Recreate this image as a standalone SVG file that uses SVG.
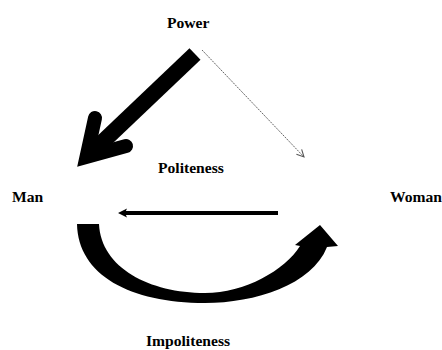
<svg xmlns="http://www.w3.org/2000/svg" width="442" height="350" viewBox="0 0 442 350">
<style>
.lbl{font-family:"Liberation Serif","Times New Roman",serif;font-weight:bold;font-size:15.6px;fill:#000}
</style>
<defs>
<marker id="openHead" viewBox="0 0 10 10" refX="9" refY="5" markerWidth="9" markerHeight="9" markerUnits="userSpaceOnUse" orient="auto">
<path d="M1,1 L9,5 L1,9" fill="none" stroke="#555" stroke-width="1.2"/>
</marker>
</defs>
<rect width="442" height="350" fill="#fff"/>
<g id="power"><text class="lbl" x="167" y="28">Power</text></g>
<g id="man"><text class="lbl" x="12" y="202">Man</text></g>
<g id="woman"><text class="lbl" x="390" y="202">Woman</text></g>
<g id="politeness"><text class="lbl" x="158" y="173">Politeness</text></g>
<g id="impoliteness"><text class="lbl" x="146" y="346">Impoliteness</text></g>
<g id="connectors">
<g id="power-man">
<line x1="195" y1="54" x2="92" y2="152" stroke="#000" stroke-width="16"/>
<polyline points="95,118 86.5,157 126,146" fill="none" stroke="#000" stroke-width="14" stroke-linejoin="miter" stroke-linecap="round"/>
</g>
<line id="power-woman" x1="202" y1="50" x2="304" y2="157" stroke="#666" stroke-width="1" stroke-dasharray="2,1" marker-end="url(#openHead)"/>
<g id="woman-man">
<line x1="278" y1="213" x2="124" y2="213" stroke="#000" stroke-width="4"/>
<polygon points="118,213 127,208.5 125,213 127,217.5" fill="#000"/>
</g>
<path id="man-woman" d="M77,224 L99,224 C101,268 150,293 205,293 C245,293 285,270 300,246 L295,245 L320,225 L338,246 L327,247 C312,285 255,303 205,303 C130,303 78,275 77,224 Z" fill="#000"/>
</g>
</svg>
